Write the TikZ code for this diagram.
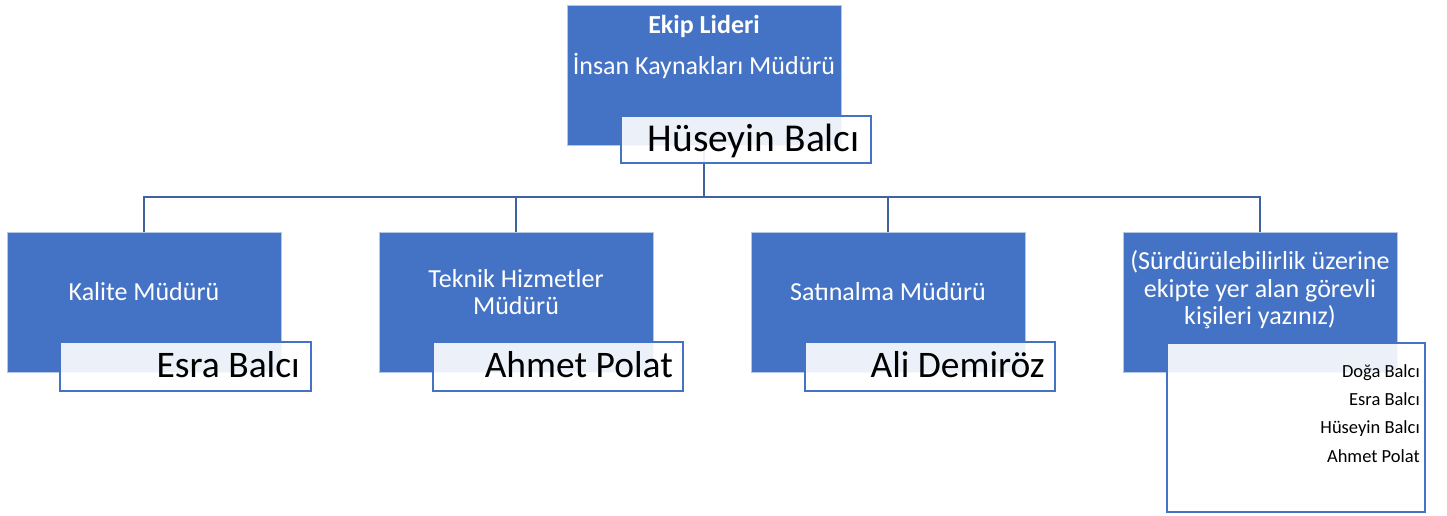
\documentclass[tikz,border=0pt]{standalone}
\usepackage{fontspec}
\setmainfont{Carlito}
\definecolor{boxblue}{HTML}{4472C4}
\definecolor{linkblue}{HTML}{3F63A0}
\begin{document}
\begin{tikzpicture}[x=1pt,y=-1pt,
 rolebox/.style={draw=white!60!boxblue, line width=0.6pt, fill=boxblue, minimum width=274pt, minimum height=140pt, anchor=north west, inner sep=0pt, outer sep=0pt},
 namebox/.style={draw=boxblue, line width=2pt, fill=white, fill opacity=0.9, anchor=north west, inner sep=0pt, outer sep=0pt},
 role/.style={text=white, font=\fontsize{26}{27.5}\selectfont, align=center, inner sep=0pt},
 person/.style={font=\fontsize{37.5}{37.5}\selectfont, anchor=base east, inner sep=0pt},
 member/.style={font=\fontsize{18.5}{18.5}\selectfont, anchor=base east, inner sep=0pt},
 link/.style={draw=linkblue, line width=2pt}]
\useasboundingbox (0,0) rectangle (1447,515);
% role boxes
\node[rolebox] (top) at (567,5) {};
\node[rolebox] (c1) at (7,232) {};
\node[rolebox] (c2) at (379,232) {};
\node[rolebox] (c3) at (751,232) {};
\node[rolebox] (c4) at (1123,232) {};
% connectors
\draw[link] (top.south) -- ++(0,52) coordinate (bus) -| (c1.north);
\draw[link] (bus) -| (c2.north);
\draw[link] (bus) -| (c3.north);
\draw[link] (bus) -| (c4.north);
% name boxes
\node[namebox, minimum width=250pt, minimum height=47pt] (ntop) at (621,116) {};
\node[namebox, minimum width=251pt, minimum height=49pt] (n1) at (60,342) {};
\node[namebox, minimum width=250pt, minimum height=49pt] (n2) at (433,342) {};
\node[namebox, minimum width=250pt, minimum height=49pt] (n3) at (805,342) {};
\node[namebox, minimum width=258pt, minimum height=169pt] (n4) at (1167,343) {};
% role texts
\node[role, font=\bfseries\fontsize{26}{26}\selectfont] (t0a) at (704,26) {Ekip Lideri};
\node[role] (t0b) at (704,66) {İnsan Kaynakları Müdürü};
\node[role] (t1) at (144,292) {Kalite Müdürü};
\node[role] (t2) at (516,292) {Teknik Hizmetler\\Müdürü};
\node[role] (t3) at (888,292) {Satınalma Müdürü};
\node[role] (t4) at (1260,290) {(Sürdürülebilirlik üzerine\\ekipte yer alan görevli\\kişileri yazınız)};
% person names
\node[person, font=\fontsize{39.5}{39.5}\selectfont] (p0) at (860,151) {Hüseyin Balcı};
\node[person] (p1) at (300,377) {Esra Balcı};
\node[person] (p2) at (673,377) {Ahmet Polat};
\node[person] (p3) at (1045,377) {Ali Demiröz};
\node[member] (m1) at (1420,377) {Doğa Balcı};
\node[member] (m2) at (1420,405) {Esra Balcı};
\node[member] (m3) at (1420,433) {Hüseyin Balcı};
\node[member] (m4) at (1420,462) {Ahmet Polat};
\end{tikzpicture}
\end{document}
